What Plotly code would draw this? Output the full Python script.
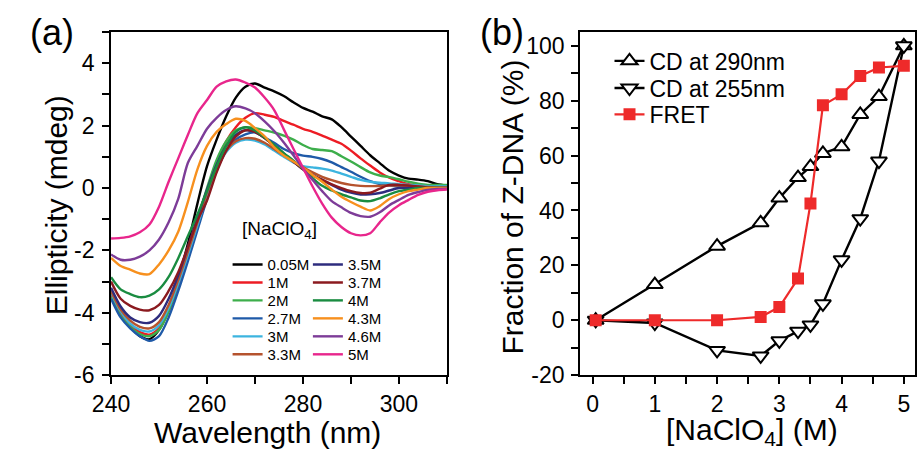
import plotly.graph_objects as go

W, H = 917, 462
FONT = "Liberation Sans, Arial, sans-serif"

# ---------------- Panel (a): CD spectra ----------------
wavelength = list(range(240, 311, 2))

conc_labels = ["0.05M", "1M", "2M", "2.7M", "3M", "3.3M",
               "3.5M", "3.7M", "4M", "4.3M", "4.6M", "5M"]
conc_colors = ["#000000", "#ed1c24", "#3dae4b", "#1f5aa8", "#3cb4df", "#b5532e",
               "#2e2c7e", "#8b1a1f", "#1a8c41", "#f7901e", "#7d3c98", "#e8268c"]

cd_005 = [-3.4, -4.0, -4.45, -4.75, -4.85, -4.55, -3.9, -2.9, -1.8, -0.5, 0.7, 1.55,
          2.3, 2.9, 3.25, 3.35, 3.22, 3.1, 2.95, 2.75, 2.57, 2.45, 2.3, 2.2,
          1.95, 1.65, 1.35, 1.05, 0.8, 0.55, 0.4, 0.3, 0.27, 0.22, 0.12, 0.08]
cd_1 = [-3.45, -4.05, -4.4, -4.62, -4.7, -4.5, -3.95, -3.1, -2.15, -1.15, -0.15, 0.8,
        1.5, 1.95, 2.25, 2.4, 2.35, 2.28, 2.15, 2.03, 1.9, 1.8, 1.68, 1.55,
        1.42, 1.2, 0.95, 0.72, 0.5, 0.33, 0.22, 0.12, 0.08, 0.05, 0.03, 0.02]
cd_2 = [-3.5, -4.1, -4.45, -4.68, -4.75, -4.55, -3.95, -3.05, -2.05, -1.0, 0.0, 0.9,
        1.5, 1.85, 1.95, 1.92, 1.85, 1.78, 1.68, 1.55, 1.38, 1.25, 1.22, 1.18,
        1.02, 0.85, 0.67, 0.5, 0.4, 0.35, 0.28, 0.2, 0.14, 0.1, 0.1, 0.1]
cd_27 = [-3.55, -4.15, -4.5, -4.75, -4.9, -4.75, -4.15, -3.3, -2.35, -1.35, -0.35, 0.55,
         1.2, 1.55, 1.72, 1.78, 1.62, 1.45, 1.25, 1.12, 1.04, 1.0, 0.93, 0.82,
         0.67, 0.52, 0.36, 0.22, 0.13, 0.08, 0.05, 0.04, 0.03, 0.03, 0.03, 0.03]
cd_3 = [-3.35, -3.95, -4.35, -4.55, -4.6, -4.4, -3.85, -3.05, -2.15, -1.2, -0.25, 0.6,
        1.15, 1.45, 1.55, 1.52, 1.4, 1.2, 1.0, 0.82, 0.7, 0.66, 0.62, 0.56,
        0.46, 0.36, 0.26, 0.2, 0.17, 0.15, 0.12, 0.1, 0.08, 0.06, 0.05, 0.05]
cd_33 = [-3.3, -3.9, -4.25, -4.45, -4.5, -4.3, -3.75, -2.95, -2.05, -1.1, -0.15, 0.65,
         1.2, 1.5, 1.6, 1.58, 1.45, 1.25, 1.05, 0.85, 0.67, 0.5, 0.36, 0.25,
         0.16, 0.1, 0.07, 0.06, 0.07, 0.08, 0.08, 0.07, 0.05, 0.03, 0.02, 0.02]
cd_35 = [-3.2, -3.8, -4.15, -4.3, -4.32, -4.1, -3.55, -2.8, -1.9, -0.95, -0.05, 0.75,
         1.35, 1.7, 1.85, 1.8, 1.6, 1.35, 1.1, 0.85, 0.6, 0.42, 0.26, 0.1,
         -0.05, -0.15, -0.21, -0.2, -0.16, -0.08, 0.0, 0.0, 0.0, 0.0, 0.0, 0.0]
cd_37 = [-3.0, -3.55, -3.78, -3.9, -3.92, -3.75, -3.3, -2.7, -1.9, -1.05, -0.4, 0.5,
         1.2, 1.65, 1.85, 1.8, 1.6, 1.35, 1.1, 0.85, 0.6, 0.4, 0.26, 0.12,
         0.0, -0.1, -0.16, -0.15, -0.02, 0.1, 0.1, 0.08, 0.05, 0.02, 0.0, 0.0]
cd_4 = [-2.86, -3.25, -3.4, -3.5, -3.45, -3.25, -2.85, -2.25, -1.55, -0.85, -0.1, 0.7,
        1.35, 1.8, 1.95, 1.85, 1.62, 1.38, 1.12, 0.88, 0.62, 0.32, 0.07, -0.08,
        -0.2, -0.3, -0.4, -0.42, -0.33, -0.2, -0.1, -0.05, 0.0, 0.0, 0.0, 0.0]
cd_43 = [-2.24, -2.5, -2.62, -2.74, -2.76, -2.45, -2.0, -1.4, -0.45, 0.6, 1.35, 1.8,
         2.05, 2.22, 2.15, 1.92, 1.66, 1.3, 1.04, 0.85, 0.65, 0.42, 0.2, -0.05,
         -0.28, -0.45, -0.6, -0.72, -0.58, -0.35, -0.2, -0.1, -0.05, 0.0, 0.0, 0.0]
cd_46 = [-2.13, -2.3, -2.3, -2.2, -2.0, -1.65, -1.1, -0.35, 0.8, 1.35, 1.9, 2.25,
         2.5, 2.62, 2.55, 2.4, 2.14, 1.83, 1.46, 1.05, 0.62, 0.26, -0.1, -0.42,
         -0.62, -0.8, -0.9, -0.92, -0.78, -0.55, -0.38, -0.22, -0.13, -0.06, -0.03, -0.02]
cd_5 = [-1.62, -1.6, -1.55, -1.42, -1.17, -0.6, 0.2, 0.95, 1.7, 2.4, 2.82, 3.25,
        3.42, 3.48, 3.38, 3.22, 2.9, 2.5, 1.88, 1.26, 0.65, 0.05, -0.5, -0.95,
        -1.25, -1.45, -1.52, -1.45, -1.1, -0.78, -0.55, -0.38, -0.22, -0.12, -0.07, -0.05]

cd_series = [cd_005, cd_1, cd_2, cd_27, cd_3, cd_33,
             cd_35, cd_37, cd_4, cd_43, cd_46, cd_5]

a_xticks = [240, 260, 280, 300]
a_xminor = [250, 270, 290, 310]
a_yticks = [-6, -4, -2, 0, 2, 4]
a_yminor = [-5, -3, -1, 1, 3, 5]

# ---------------- Panel (b): Z-DNA fraction ----------------
nacl = [0.05, 1, 2, 2.7, 3, 3.3, 3.5, 3.7, 4, 4.3, 4.6, 5]
cd290 = [0, 13, 27, 35.5, 44.5, 52, 56, 60.8, 63.2, 75, 81.5, 100]
cd255 = [0, -1, -11, -13, -7.5, -4, -1.7, 6, 22, 37, 58, 100]
fret = [0, 0, 0, 1.2, 4.8, 15.2, 42.5, 78.3, 82.3, 89, 92.1, 92.7]

b_xticks = [0, 1, 2, 3, 4, 5]
b_xminor = [0.5, 1.5, 2.5, 3.5, 4.5]
b_yticks = [-20, 0, 20, 40, 60, 80, 100]
b_yminor = [-10, 10, 30, 50, 70, 90]


def px_x(p):
    return p / W


def px_y(p):
    return 1 - p / H


fig = go.Figure()
legend_layout = {}


def one_item_legend(key, left_px, center_px, size):
    # a single-entry legend whose row is centred on center_px
    item_h = size * 1.3 + 3
    legend_layout[key] = dict(
        x=px_x(left_px), y=px_y(center_px - item_h / 2),
        xanchor="left", yanchor="top", bgcolor="rgba(0,0,0,0)",
        borderwidth=0, itemwidth=30,
        font=dict(family=FONT, size=size, color="black"),
    )


# two columns of six entries for the spectra
rows_a = [266.7, 285.2, 303.6, 322.1, 340.6, 359.1]
for i, (lab, col, ys) in enumerate(zip(conc_labels, conc_colors, cd_series)):
    key = "legend" if i == 0 else f"legend{i + 1}"
    one_item_legend(key, 213, rows_a[i % 6], 15)
    if i >= 6:
        legend_layout[key]["x"] = px_x(295)
    fig.add_trace(go.Scatter(
        x=wavelength, y=ys, mode="lines", name=lab,
        line=dict(color=col, width=2.4, shape="spline", smoothing=0.8),
        xaxis="x", yaxis="y", legend=key,
    ))

rows_b = [57, 85, 112]
series_b = [
    ("CD at 290nm", cd290, "black", dict(symbol="triangle-up", size=14, color="white",
                                         line=dict(color="black", width=2)), 2.4),
    ("CD at 255nm", cd255, "black", dict(symbol="triangle-down", size=14, color="white",
                                         line=dict(color="black", width=2)), 2.4),
    ("FRET", fret, "#ee2a2a", dict(symbol="square", size=12, color="#ee2a2a"), 2.2),
]
for j, (name, ys, col, mk, lw) in enumerate(series_b):
    key = f"legend{13 + j}"
    one_item_legend(key, 603, rows_b[j], 23)
    fig.add_trace(go.Scatter(
        x=nacl, y=ys, mode="lines+markers", name=name,
        line=dict(color=col, width=lw), marker=mk,
        xaxis="x2", yaxis="y2", legend=key,
    ))


def axis(domain, rng, ticks, minor_ticks, anchor, standoff=None):
    d = dict(
        domain=domain, range=rng, anchor=anchor,
        tickmode="array", tickvals=ticks, ticktext=[str(v) for v in ticks],
        minor=dict(tickmode="array", tickvals=minor_ticks, ticklen=7,
                   tickwidth=2, tickcolor="black", ticks="outside"),
        showline=True, linecolor="black", linewidth=2, mirror=True,
        ticks="outside", ticklen=7, tickwidth=2, tickcolor="black",
        showgrid=False, zeroline=False,
        tickfont=dict(family=FONT, size=23, color="black"),
    )
    if standoff is not None:
        d["ticklabelstandoff"] = standoff
    return d


y_top, y_bot = 33, 386
fig.update_layout(
    width=W, height=H,
    margin=dict(l=0, r=0, t=0, b=0),
    paper_bgcolor="white", plot_bgcolor="white",
    font=dict(family=FONT, color="black"),
    xaxis=axis([px_x(94), px_x(437)], [240, 310], a_xticks, a_xminor, "y"),
    yaxis=axis([px_y(y_bot), px_y(y_top)], [-6, 5], a_yticks, a_yminor, "x", 3),
    xaxis2=axis([px_x(573), px_x(915)], [-0.2, 5.18], b_xticks, b_xminor, "y2"),
    yaxis2=axis([px_y(y_bot), px_y(y_top)], [-20, 105], b_yticks, b_yminor, "x2", 2),
    showlegend=True,
    **legend_layout,
)

annotations = [
    dict(text="Wavelength (nm)", x=px_x(254), y=px_y(445), font=dict(size=30)),
    dict(text="Ellipticity (mdeg)", x=px_x(38), y=px_y(211), textangle=-90, font=dict(size=30)),
    dict(text="[NaClO<sub>4</sub>] (M)", x=px_x(748), y=px_y(444), font=dict(size=30)),
    dict(text="Fraction of Z-DNA (%)", x=px_x(503), y=px_y(213), textangle=-90, font=dict(size=30)),
    dict(text="(a)", x=px_x(34), y=px_y(33), font=dict(size=36)),
    dict(text="(b)", x=px_x(493), y=px_y(33), font=dict(size=36)),
    dict(text="[NaClO<sub>4</sub>]", x=px_x(266), y=px_y(237), font=dict(size=19)),
]
for a in annotations:
    a.update(xref="paper", yref="paper", showarrow=False,
             xanchor="center", yanchor="middle")
    a["font"].update(family=FONT, color="black")
fig.update_layout(annotations=annotations)

fig.write_html("out.html")
